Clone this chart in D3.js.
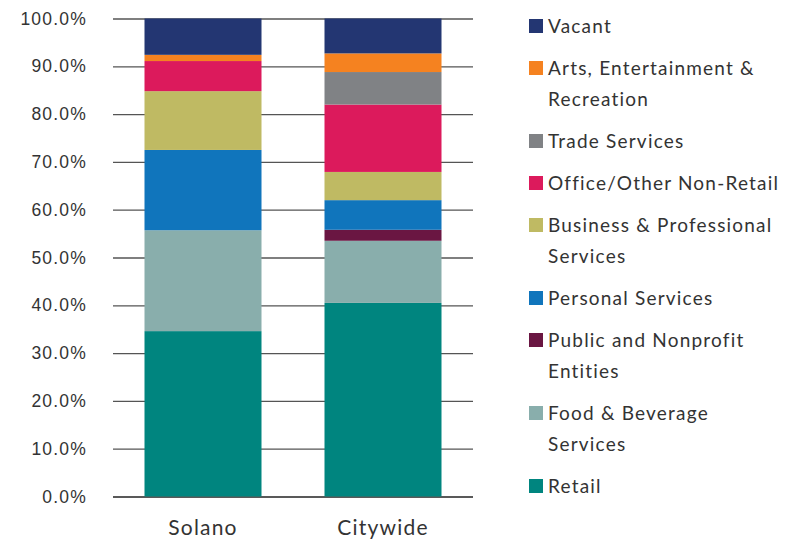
<!DOCTYPE html>
<html>
<head>
<meta charset="utf-8">
<script src="https://cdn.jsdelivr.net/npm/d3@7"></script>
<style>
  body { margin: 0; background: #fff; }
  svg { display: block; font-family: Lato, "Open Sans", sans-serif; letter-spacing: 0.075em; }
</style>
</head>
<body>
<svg id="chart"></svg>
<script>
let areas = ['Solano', 'Citywide']

// bottom to top
let categories = [
  'Retail',
  'Food & Beverage Services',
  'Public and Nonprofit Entities',
  'Personal Services',
  'Business & Professional Services',
  'Office/Other Non-Retail',
  'Trade Services',
  'Arts, Entertainment & Recreation',
  'Vacant'
]

let solanoValues = [34.6, 21.1, 0, 16.8, 12.3, 6.3, 0, 1.3, 7.6]
let citywideValues = [40.5, 13.0, 2.3, 6.2, 5.9, 14.1, 6.8, 3.9, 7.3]

let colors = ['#00857f', '#89aeac', '#6a1642', '#1075bc', '#bfba63', '#dc1a5c', '#808285', '#f58220', '#233672']

// legend lines, top to bottom
let legendLines = [
  ['Vacant'],
  ['Arts, Entertainment &', 'Recreation'],
  ['Trade Services'],
  ['Office/Other Non-Retail'],
  ['Business & Professional', 'Services'],
  ['Personal Services'],
  ['Public and Nonprofit', 'Entities'],
  ['Food & Beverage', 'Services'],
  ['Retail']
]

let yTicks = [0, 10, 20, 30, 40, 50, 60, 70, 80, 90, 100]

function drawChart () {
  let svgWidth = 800
  let svgHeight = 540
  let margin = { top: 18.5, right: 327, bottom: 43.5, left: 113 }
  let width = svgWidth - margin.left - margin.right
  let height = svgHeight - margin.top - margin.bottom

  let svg = d3.select('#chart')
    .attr('width', svgWidth)
    .attr('height', svgHeight)

  let g = svg.append('g')
    .attr('transform', `translate(${margin.left}, ${margin.top})`)

  let x = d3.scaleBand()
    .domain(areas)
    .range([0, width])
    .paddingInner(0.35)
    .paddingOuter(0.175)

  let y = d3.scaleLinear()
    .domain([0, 100])
    .range([height, 0])

  // gridlines + tick labels
  let yAxis = g.append('g')
    .call(d3.axisLeft(y)
      .tickValues(yTicks)
      .tickSize(-width)
      .tickPadding(26)
      .tickFormat(d => d.toFixed(1) + '%'))
  yAxis.select('.domain').remove()
  yAxis.selectAll('.tick line')
    .attr('stroke', d => d === 0 ? '#222' : '#555')
    .attr('stroke-width', d => d === 0 ? 1.5 : 1.3)
  yAxis.selectAll('.tick text')
    .attr('fill', '#333')
    .style('font-size', '17.5px')

  let rows = areas.map((a, i) => {
    let vals = i === 0 ? solanoValues : citywideValues
    let row = { area: a }
    categories.forEach((c, j) => { row[c] = vals[j] })
    return row
  })

  let stacked = d3.stack().keys(categories)(rows)

  g.selectAll('g.layer')
    .data(stacked)
    .join('g')
    .attr('class', 'layer')
    .attr('fill', (d, i) => colors[i])
    .selectAll('rect')
    .data(d => d)
    .join('rect')
    .attr('x', d => x(d.data.area))
    .attr('width', x.bandwidth())
    .attr('y', d => y(d[1]))
    .attr('height', d => y(d[0]) - y(d[1]))

  // x labels
  g.append('g')
    .selectAll('text')
    .data(areas)
    .join('text')
    .attr('x', d => x(d) + x.bandwidth() / 2)
    .attr('y', height + 38)
    .attr('text-anchor', 'middle')
    .attr('fill', '#333')
    .style('font-size', '21px')
    .text(d => d)

  // legend
  let legend = svg.append('g')
  let ly = 26
  legendLines.forEach((lines, i) => {
    let item = legend.append('g')
    item.append('rect')
      .attr('x', 529)
      .attr('y', ly - 7)
      .attr('width', 14)
      .attr('height', 14)
      .attr('fill', colors[categories.length - 1 - i])
    lines.forEach((t, k) => {
      item.append('text')
        .attr('x', 548)
        .attr('y', ly + k * 31)
        .attr('dy', '0.35em')
        .attr('fill', '#333')
        .style('font-size', '19px')
        .text(t)
    })
    ly += (lines.length - 1) * 31 + 42
  })
}

drawChart()
</script>
</body>
</html>
